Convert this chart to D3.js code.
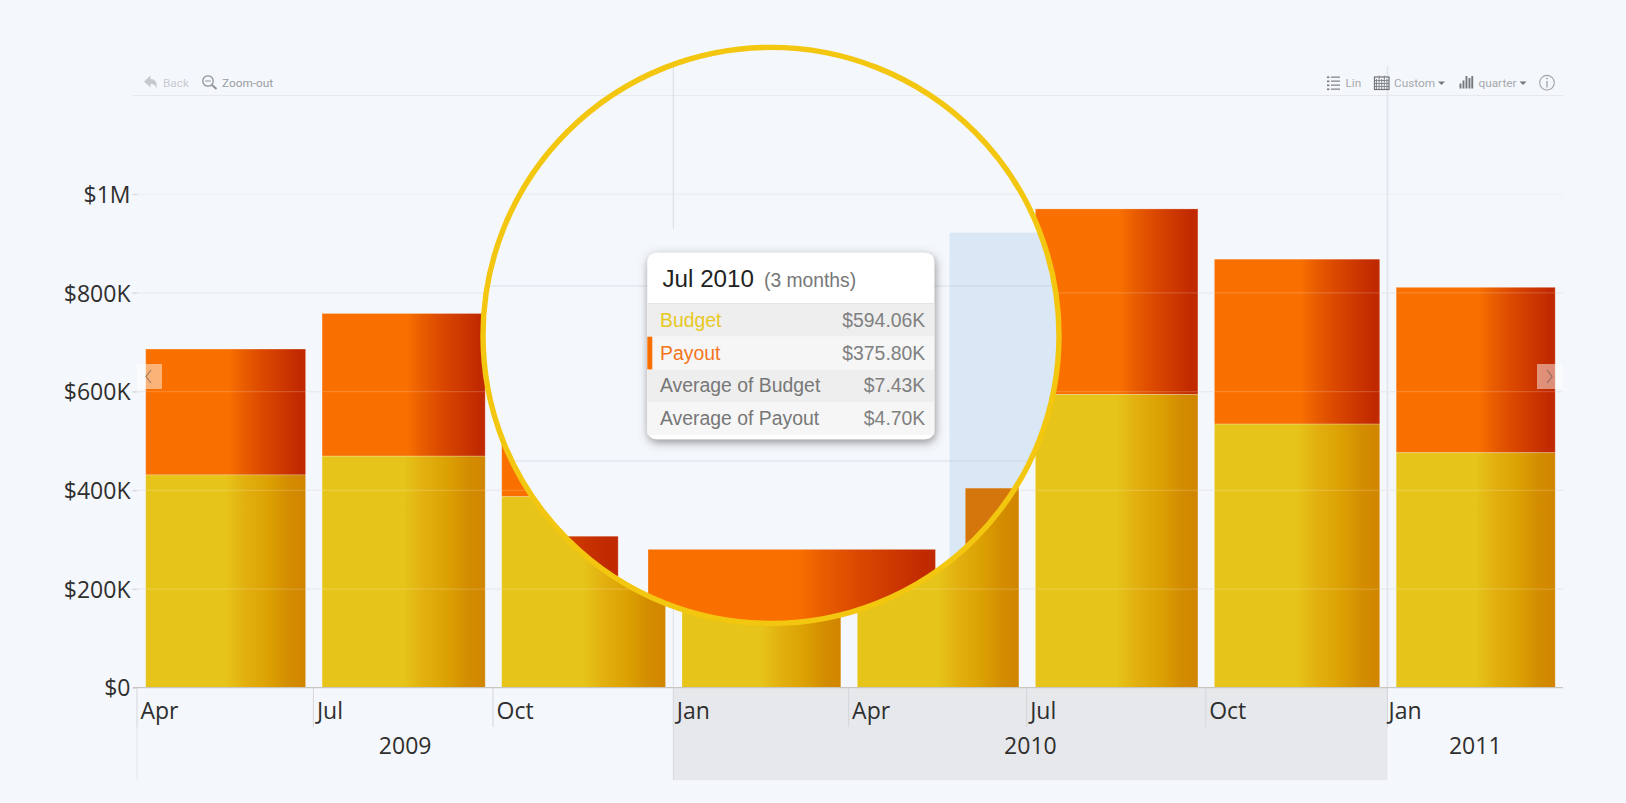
<!DOCTYPE html>
<html><head><meta charset="utf-8">
<script src="https://cdn.jsdelivr.net/npm/d3@7"></script>
<style>
html,body{margin:0;padding:0;background:#f4f7fb;overflow:hidden}
svg{display:block}
</style></head><body>
<svg id="c" width="1626" height="803"></svg>
<script>
const quarters=["2009-04-01","2009-07-01","2009-10-01","2010-01-01","2010-04-01","2010-07-01","2010-10-01","2011-01-01","2011-04-01"];
const budget=[431000,469000,387000,300000,420000,594060,534000,476000];
const payout=[255000,289000,127000,199000,149000,375800,334000,335000];
const monthLabels=["Apr","Jul","Oct","Jan","Apr","Jul","Oct","Jan"];
const years=["2009","2010","2011"];
const yearStarts=["2009-04-01","2010-01-01","2011-01-01","2011-04-01"];
const yTicks=[0,200000,400000,600000,800000,1000000];
const yTickLabels=["$0","$200K","$400K","$600K","$800K","$1M"];
const tipRows=[["Budget","$594.06K"],["Payout","$375.80K"],["Average of Budget","$7.43K"],["Average of Payout","$4.70K"]];
const tipTitle="Jul 2010", tipSpan="(3 months)";

const parse=d3.utcParse("%Y-%m-%d");
const dates=quarters.map(parse);
const x=d3.scaleUtc().domain(dates).range([137,313.4,493,673.3,848.6,1026.7,1205.7,1387.5,1563]);
const y=d3.scaleLinear().domain([0,1200000]).range([687.7,95.3]);
const lensPx=d3.scaleLinear().domain([137,1563]).range([-338.4,2242.6]);
const lensY=d3.scaleLinear().domain([600000,800000]).range([461,286]);

const svg=d3.select("#c");
const defs=svg.append("defs");
function grad(id,stops){
  const g=defs.append("linearGradient").attr("id",id);
  stops.forEach(s=>g.append("stop").attr("offset",s[0]).attr("stop-color",s[1]));
}
grad("gO",[[0,"#f97000"],[.52,"#f97000"],[.6,"#ea5f00"],[.72,"#dc4a00"],[.86,"#cc3700"],[.96,"#c12a00"],[1,"#c12a00"]]);
grad("gY",[[0,"#e6c419"],[.5,"#e6c419"],[.62,"#e2b010"],[.76,"#dca204"],[.9,"#d38c00"],[1,"#d18500"]]);
defs.append("clipPath").attr("id","lensClip").append("circle").attr("cx",771).attr("cy",335.4).attr("r",288.3);
const f=defs.append("filter").attr("id","tipShadow").attr("x","-15%").attr("y","-15%").attr("width","130%").attr("height","135%");
f.append("feDropShadow").attr("dx",1).attr("dy",3).attr("stdDeviation",5).attr("flood-color","#555").attr("flood-opacity",.65);

const idx=d3.range(budget.length);
const sans="'Open Sans',sans-serif";

/* ---------- x axis band ---------- */
svg.append("rect").attr("x",x(parse(yearStarts[1]))).attr("width",x(parse(yearStarts[2]))-x(parse(yearStarts[1])))
  .attr("y",y(0)).attr("height",92.5).attr("fill","#e7e8ec");

/* ---------- grid below bars ---------- */
const gridVals=[200000,400000,600000,800000,1000000,1200000];
svg.append("g").selectAll("line").data(gridVals).join("line")
  .attr("x1",133).attr("x2",1563).attr("y1",d=>y(d)+.2).attr("y2",d=>y(d)+.2)
  .attr("stroke",d=>d===1000000?"#eceef2":"#e6e8ed").attr("stroke-width",1.2);

/* ---------- selection lines ---------- */
svg.append("line").attr("x1",x(dates[3])).attr("x2",x(dates[3])).attr("y1",66).attr("y2",y(0)).attr("stroke","#dfe2e8").attr("stroke-width",1);
svg.append("line").attr("x1",x(dates[7])).attr("x2",x(dates[7])).attr("y1",66).attr("y2",y(0)).attr("stroke","#e2e5eb").attr("stroke-width",1.6);

/* ---------- bars ---------- */
const edge="rgba(255,255,255,.22)";
function bars(g,xf,yf,yBase,payFill){
  const left=i=>xf(x(dates[i])+8.7), right=i=>xf(x(dates[i+1])-7.8);
  g.append("g").selectAll("rect").data(idx).join("rect")
    .attr("x",left).attr("width",i=>right(i)-left(i))
    .attr("y",i=>yf(budget[i]+payout[i])).attr("height",i=>yf(budget[i])-yf(budget[i]+payout[i]))
    .attr("fill",payFill).attr("stroke",edge);
  g.append("g").selectAll("rect").data(idx).join("rect")
    .attr("x",left).attr("width",i=>right(i)-left(i))
    .attr("y",i=>yf(budget[i])).attr("height",i=>yBase-yf(budget[i]))
    .attr("fill","url(#gY)").attr("stroke",edge);
}
bars(svg.append("g"),d=>d,y,y(0),"url(#gO)");

/* ---------- grid over bars ---------- */
svg.append("g").selectAll("line").data(gridVals.slice(0,4)).join("line")
  .attr("x1",137).attr("x2",1563).attr("y1",d=>y(d)+.2).attr("y2",d=>y(d)+.2)
  .attr("stroke","rgba(255,255,255,.17)").attr("stroke-width",1.2);

/* ---------- y axis ---------- */
const yAxis=svg.append("g").attr("transform","translate(137,0)")
  .call(d3.axisLeft(y).tickValues(yTicks).tickFormat((d,i)=>yTickLabels[i]).tickSize(4.5).tickPadding(2));
yAxis.select(".domain").remove();
yAxis.selectAll("line").attr("stroke","#d6d8dd").attr("stroke-width",1.2);
yAxis.selectAll("text").attr("font-family",sans).attr("font-size",23).attr("fill","#2f2f2f").attr("dy",".36em");

/* ---------- x axis ---------- */
svg.append("line").attr("x1",133).attr("x2",1563).attr("y1",y(0)).attr("y2",y(0)).attr("stroke","#c9c6bf").attr("stroke-width",1.2);
svg.append("g").selectAll("line").data(monthLabels).join("line")
  .attr("x1",(d,i)=>x(dates[i])).attr("x2",(d,i)=>x(dates[i])).attr("y1",y(0)).attr("y2",727)
  .attr("stroke","#d4d6db").attr("stroke-width",1);
svg.append("line").attr("x1",x(dates[0])).attr("x2",x(dates[0])).attr("y1",727).attr("y2",780).attr("stroke","#e4e6ea");
svg.append("line").attr("x1",x(dates[3])).attr("x2",x(dates[3])).attr("y1",727).attr("y2",780).attr("stroke","#d8dade");
svg.append("g").selectAll("text").data(monthLabels).join("text")
  .attr("x",(d,i)=>x(dates[i])+(i===7?1:3.5)).attr("y",719).text(d=>d)
  .attr("font-family",sans).attr("font-size",23).attr("fill","#2f2f2f");
svg.append("g").selectAll("text").data(years).join("text")
  .attr("x",(d,i)=>(x(parse(yearStarts[i]))+x(parse(yearStarts[i+1])))/2).attr("y",754).attr("text-anchor","middle").text(d=>d)
  .attr("font-family",sans).attr("font-size",23).attr("fill","#2f2f2f");

/* ---------- nav boxes ---------- */
[[137,true],[1537,false]].forEach(([bx,isLeft])=>{
  svg.append("rect").attr("x",bx).attr("y",364).attr("width",25).attr("height",25).attr("fill","rgba(255,255,255,.47)");
  const cx=isLeft?148:1550;
  svg.append("path").attr("d",isLeft?`M${cx+3} 370L${cx-2} 376.5L${cx+3} 383`:`M${cx-3} 370L${cx+2} 376.5L${cx-3} 383`)
    .attr("fill","none").attr("stroke","rgba(110,90,80,.65)").attr("stroke-width",1.2);
});

/* ---------- toolbar ---------- */
const tb=svg.append("g").attr("font-family","Roboto,sans-serif").attr("font-size",11.8);
const tbText=(t,xx,c)=>tb.append("text").attr("x",xx).attr("y",86.8).attr("fill",c).text(t);
tb.append("path").attr("d","M144 81.5L150.5 75.5V79C156 79 157.5 83.5 156.5 88.5C155.5 85 153.5 83.8 150.5 84V87.5Z").attr("fill","#c6c9ce");
tbText("Back",163,"#c8cbd0");
tb.append("circle").attr("cx",208).attr("cy",81).attr("r",5.2).attr("fill","none").attr("stroke","#8f9296").attr("stroke-width",1.3);
tb.append("line").attr("x1",205.3).attr("x2",210.7).attr("y1",81).attr("y2",81).attr("stroke","#8f9296");
tb.append("line").attr("x1",212).attr("x2",216.5).attr("y1",85).attr("y2",89).attr("stroke","#8f9296").attr("stroke-width",2);
tbText("Zoom-out",222,"#9a9da1");
[0,1,2,3].forEach(i=>{
  tb.append("rect").attr("x",1327).attr("y",76.5+i*4).attr("width",2.4).attr("height",1.6).attr("fill","#75787c");
  tb.append("rect").attr("x",1331).attr("y",76.5+i*4).attr("width",9).attr("height",1.3).attr("fill","#85888c");
});
tbText("Lin",1345.5,"#a6a9ad");
tb.append("rect").attr("x",1374.5).attr("y",77).attr("width",14.5).attr("height",12.5).attr("fill","none").attr("stroke","#6f7276").attr("stroke-width",1.2);
d3.range(5).forEach(i=>tb.append("line").attr("x1",1376.5+i*2.6).attr("x2",1376.5+i*2.6).attr("y1",i%2?75.5:79).attr("y2",89).attr("stroke","#85888c").attr("stroke-width",1));
d3.range(3).forEach(i=>tb.append("line").attr("x1",1375).attr("x2",1389).attr("y1",80.5+i*3).attr("y2",80.5+i*3).attr("stroke","#85888c").attr("stroke-width",1));
tbText("Custom",1394,"#a6a9ad");
tb.append("path").attr("d","M1438 81.5H1445L1441.5 85Z").attr("fill","#75787c");
[[1459.5,5],[1462.5,8],[1465.5,12.5],[1468.5,10.5],[1471.3,12.5]].forEach(([bx,h])=>tb.append("rect").attr("x",bx).attr("y",88.5-h).attr("width",1.9).attr("height",h).attr("fill","#75787c"));
tbText("quarter",1478.5,"#a6a9ad");
tb.append("path").attr("d","M1519.5 81.5H1526.5L1523 85Z").attr("fill","#75787c");
tb.append("circle").attr("cx",1547).attr("cy",82.7).attr("r",7.3).attr("fill","none").attr("stroke","#a3a6aa").attr("stroke-width",1.1);
tb.append("line").attr("x1",1547).attr("x2",1547).attr("y1",81).attr("y2",87.5).attr("stroke","#8f9296").attr("stroke-width",1.1);
tb.append("circle").attr("cx",1547).attr("cy",78.6).attr("r",.8).attr("fill","#8f9296");

/* ---------- magnifying lens ---------- */
const lens=svg.append("g").attr("clip-path","url(#lensClip)");
lens.append("rect").attr("x",470).attr("y",30).attr("width",600).attr("height",610).attr("fill","#f4f7fb");
lens.append("rect").attr("x",lensPx(x(dates[4]))).attr("y",232.7).attr("width",140).attr("height",400).attr("fill","#d9e8f4");
lens.append("g").selectAll("line").data([1200000,1000000]).join("line")
  .attr("x1",470).attr("x2",1070).attr("y1",d=>y(d)+.2).attr("y2",d=>y(d)+.2).attr("stroke","#e9ebef").attr("stroke-width",1.2);
lens.append("g").selectAll("line").data([800000,600000]).join("line")
  .attr("x1",470).attr("x2",1070).attr("y1",d=>lensY(d)).attr("y2",d=>lensY(d)).attr("stroke","rgba(170,180,195,.22)").attr("stroke-width",1.4);
lens.append("line").attr("x1",x(dates[3])).attr("x2",x(dates[3])).attr("y1",60).attr("y2",228.7).attr("stroke","#d8dce2").attr("stroke-width",1);
bars(lens.append("g"),lensPx,lensY,800,i=>i===4?"#d5760c":"url(#gO)");

/* ---------- tooltip ---------- */
const tip=lens.append("g");
tip.append("rect").attr("x",647.3).attr("y",252.7).attr("width",287).attr("height",186.6).attr("rx",9).attr("fill","#fff").attr("filter","url(#tipShadow)");
const arial="'Liberation Sans',Arial,sans-serif";
tip.append("line").attr("x1",647.3).attr("x2",934.3).attr("y1",303.5).attr("y2",303.5).attr("stroke","#e4e4e4");
const rowTop=i=>304+i*32.7;
tip.append("g").selectAll("rect").data(tipRows).join("rect")
  .attr("x",647.3).attr("width",287).attr("y",(d,i)=>rowTop(i)).attr("height",32.7)
  .attr("fill",(d,i)=>i%2?"#f6f6f6":"#eeeeee");
tip.append("rect").attr("x",647.3).attr("y",rowTop(1)).attr("width",5).attr("height",32.7).attr("fill","#f97000");
tip.append("g").selectAll("text").data(tipRows).join("text")
  .attr("x",660).attr("y",(d,i)=>rowTop(i)+23).text(d=>d[0])
  .attr("font-family",arial).attr("font-size",19.4)
  .attr("fill",(d,i)=>i===0?"#e8c81e":i===1?"#f5741c":"#777");
tip.append("g").selectAll("text").data(tipRows).join("text")
  .attr("x",925.3).attr("y",(d,i)=>rowTop(i)+23).attr("text-anchor","end").text(d=>d[1])
  .attr("font-family",arial).attr("font-size",19.4).attr("fill","#808080");
tip.append("text").attr("x",662.5).attr("y",287).text(tipTitle).attr("font-family",arial).attr("font-size",24.2).attr("fill","#222");
tip.append("text").attr("x",764).attr("y",287).text(tipSpan).attr("font-family",arial).attr("font-size",19.3).attr("fill","#777");

svg.append("circle").attr("cx",771).attr("cy",335.4).attr("r",288).attr("fill","none").attr("stroke","#f3c60f").attr("stroke-width",5.4);
</script>
</body></html>
